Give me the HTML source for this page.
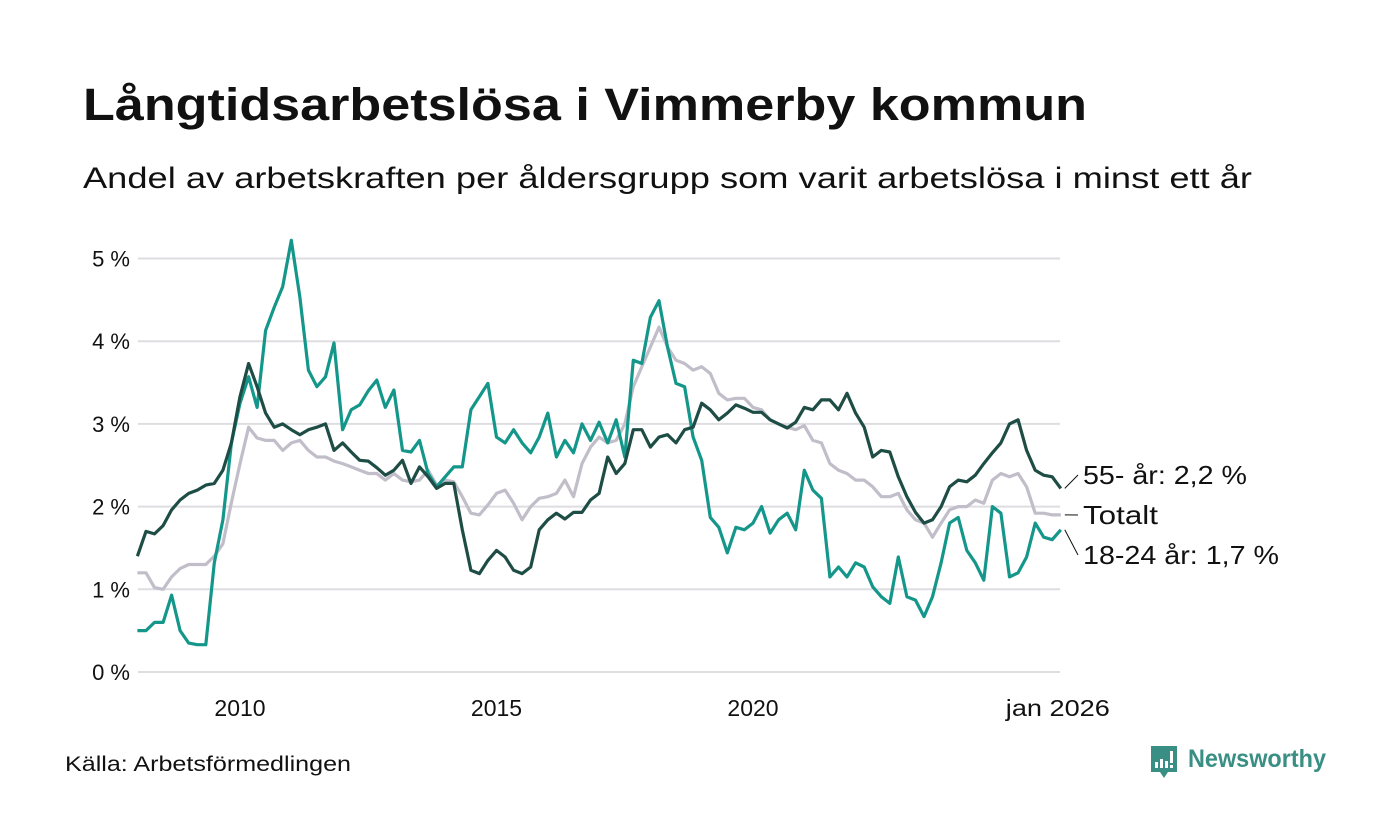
<!DOCTYPE html>
<html><head><meta charset="utf-8"><style>
html,body{margin:0;padding:0;background:#fff;}
svg{display:block;font-family:"Liberation Sans",sans-serif;}
</style></head><body>
<svg id="chart" width="1400" height="840" viewBox="0 0 1400 840" xmlns="http://www.w3.org/2000/svg">
<rect width="1400" height="840" fill="#fff"/>
<text x="83" y="120" font-size="45" font-weight="bold" fill="#111" textLength="1004" lengthAdjust="spacingAndGlyphs">Långtidsarbetslösa i Vimmerby kommun</text>
<text x="83" y="188" font-size="30" fill="#111" textLength="1169" lengthAdjust="spacingAndGlyphs">Andel av arbetskraften per åldersgrupp som varit arbetslösa i minst ett år</text>
<g id="grid"></g>
<g id="series"></g>
<g id="labels"></g>
<text x="65" y="771" font-size="21" fill="#111" textLength="286" lengthAdjust="spacingAndGlyphs">Källa: Arbetsförmedlingen</text>
<g>
<path d="M1151 746 h26 v26 h-9 l-4 6 l-4 -6 h-9 z" fill="#3a8f84"/>
<rect x="1155" y="762" width="3" height="6" fill="#fff"/>
<rect x="1160" y="759" width="3" height="9" fill="#fff"/>
<rect x="1165" y="761" width="3" height="7" fill="#fff"/>
<rect x="1170" y="751" width="3" height="12" fill="#fff"/>
<rect x="1170" y="765" width="3" height="3" fill="#fff"/>
<text x="1188" y="767" font-size="25" font-weight="bold" fill="#3a8f84" textLength="138" lengthAdjust="spacingAndGlyphs">Newsworthy</text>
</g>
</svg>
<script>
const yTicks = [0,1,2,3,4,5];
const yTickLabels = ["0 %","1 %","2 %","3 %","4 %","5 %"];
const xTicks = [2010,2015,2020,2026];
const xTickLabels = ["2010","2015","2020","jan 2026"];
const startYear = 2008;
const stepMonths = 2;
const old55 = [1.4,1.7,1.67,1.77,1.96,2.08,2.16,2.2,2.26,2.28,2.44,2.77,3.33,3.73,3.45,3.13,2.96,3.0,2.93,2.87,2.93,2.96,3.0,2.68,2.77,2.66,2.56,2.55,2.47,2.38,2.44,2.56,2.28,2.48,2.36,2.22,2.28,2.28,1.72,1.23,1.19,1.35,1.47,1.39,1.23,1.19,1.27,1.72,1.84,1.92,1.85,1.93,1.93,2.08,2.16,2.6,2.4,2.52,2.93,2.93,2.72,2.84,2.87,2.77,2.93,2.96,3.25,3.17,3.05,3.13,3.23,3.19,3.14,3.14,3.05,3.0,2.95,3.02,3.2,3.17,3.29,3.29,3.17,3.37,3.13,2.96,2.6,2.68,2.66,2.36,2.12,1.93,1.8,1.84,2.0,2.24,2.32,2.3,2.38,2.52,2.65,2.77,3.0,3.05,2.68,2.44,2.38,2.36,2.22];
const total = [1.2,1.2,1.02,1.0,1.15,1.25,1.3,1.3,1.3,1.4,1.55,2.05,2.52,2.96,2.83,2.8,2.8,2.68,2.77,2.8,2.68,2.6,2.6,2.55,2.52,2.48,2.44,2.4,2.4,2.32,2.4,2.32,2.3,2.32,2.44,2.26,2.32,2.3,2.12,1.92,1.9,2.02,2.16,2.2,2.04,1.84,2.0,2.1,2.12,2.16,2.32,2.12,2.52,2.72,2.84,2.77,2.8,3.0,3.45,3.69,3.93,4.17,3.93,3.77,3.73,3.65,3.69,3.61,3.37,3.29,3.31,3.31,3.2,3.17,3.05,3.0,2.96,2.93,2.98,2.8,2.77,2.52,2.44,2.4,2.32,2.32,2.24,2.12,2.12,2.16,1.96,1.84,1.8,1.63,1.8,1.96,2.0,2.0,2.08,2.04,2.32,2.4,2.36,2.4,2.24,1.92,1.92,1.9,1.9];
const young = [0.5,0.5,0.6,0.6,0.93,0.5,0.35,0.33,0.33,1.32,1.84,2.77,3.25,3.57,3.2,4.13,4.41,4.66,5.22,4.53,3.65,3.45,3.57,3.98,2.93,3.17,3.23,3.4,3.53,3.2,3.41,2.68,2.66,2.8,2.4,2.24,2.36,2.48,2.48,3.17,3.33,3.49,2.84,2.77,2.93,2.77,2.65,2.84,3.13,2.6,2.8,2.65,3.0,2.8,3.02,2.77,3.05,2.6,3.77,3.73,4.29,4.49,3.93,3.49,3.45,2.84,2.56,1.87,1.75,1.44,1.75,1.72,1.8,2.0,1.68,1.84,1.92,1.72,2.44,2.2,2.1,1.15,1.27,1.15,1.32,1.27,1.03,0.91,0.83,1.39,0.91,0.87,0.67,0.91,1.32,1.8,1.87,1.47,1.32,1.11,2.0,1.92,1.15,1.2,1.39,1.8,1.63,1.6,1.72];

const NS="http://www.w3.org/2000/svg";
const X0=138, X1=1060;
function xScale(year){ return 240 + (year-2010)*51.3; }
function yScale(v){ return 672 - v*82.7; }
function idxYear(i){ return startYear + i*stepMonths/12; }

const grid=document.getElementById('grid');
yTicks.forEach((t,i)=>{
  const l=document.createElementNS(NS,'line');
  
  
  l.setAttribute('x1',X0);l.setAttribute('x2',X1);
  l.setAttribute('y1',yScale(t));l.setAttribute('y2',yScale(t));
  l.setAttribute('stroke','#dedde2');l.setAttribute('stroke-width','2');
  grid.appendChild(l);
  const tx=document.createElementNS(NS,'text');
  
  
  tx.setAttribute('x',130);tx.setAttribute('y',yScale(t)+8);
  tx.setAttribute('text-anchor','end');tx.setAttribute('font-size','22');tx.setAttribute('fill','#111');
  tx.textContent=yTickLabels[i];
  grid.appendChild(tx);
});
xTicks.forEach((t,i)=>{
  const tx=document.createElementNS(NS,'text');
  
  
  tx.setAttribute('x',xScale(t)-(i===3?3:0));tx.setAttribute('y',716);
  tx.setAttribute('text-anchor','middle');tx.setAttribute('font-size','23');tx.setAttribute('fill','#111');
  if(i===3){tx.setAttribute('textLength','104');tx.setAttribute('lengthAdjust','spacingAndGlyphs');}
  tx.textContent=xTickLabels[i];
  grid.appendChild(tx);
});

const seriesG=document.getElementById('series');
function drawLine(arr,color,name){
  const p=document.createElementNS(NS,'path');
  
  
  p.setAttribute('d',arr.map((v,i)=>(i?'L':'M')+xScale(idxYear(i)).toFixed(1)+' '+yScale(v).toFixed(1)).join(' '));
  p.setAttribute('fill','none');p.setAttribute('stroke',color);p.setAttribute('stroke-width','3.2');
  p.setAttribute('stroke-linejoin','round');
  seriesG.appendChild(p);
}
drawLine(total,'#c1bdc9','line-totalt');
drawLine(young,'#14978a','line-18-24');
drawLine(old55,'#1e4d45','line-55');

const labels=document.getElementById('labels');
function endLabel(arr,text,ly,w,name){
  const ex=xScale(idxYear(arr.length-1)), ey=yScale(arr[arr.length-1]);
  const l=document.createElementNS(NS,'line');
  
  
  l.setAttribute('x1',ex+4);l.setAttribute('y1',ey);l.setAttribute('x2',1078);l.setAttribute('y2',ly-9);
  l.setAttribute('stroke','#111');l.setAttribute('stroke-width','1');
  labels.appendChild(l);
  const t=document.createElementNS(NS,'text');
  
  
  t.setAttribute('x',1083);t.setAttribute('y',ly);t.setAttribute('font-size','26');t.setAttribute('fill','#111');
  t.setAttribute('textLength',w);t.setAttribute('lengthAdjust','spacingAndGlyphs');
  t.textContent=text;
  labels.appendChild(t);
}
endLabel(old55,'55- år: 2,2 %',484,164,'label-55');
endLabel(total,'Totalt',524,75,'label-totalt');
endLabel(young,'18-24 år: 1,7 %',564,196,'label-18-24');
</script>
</body></html>
